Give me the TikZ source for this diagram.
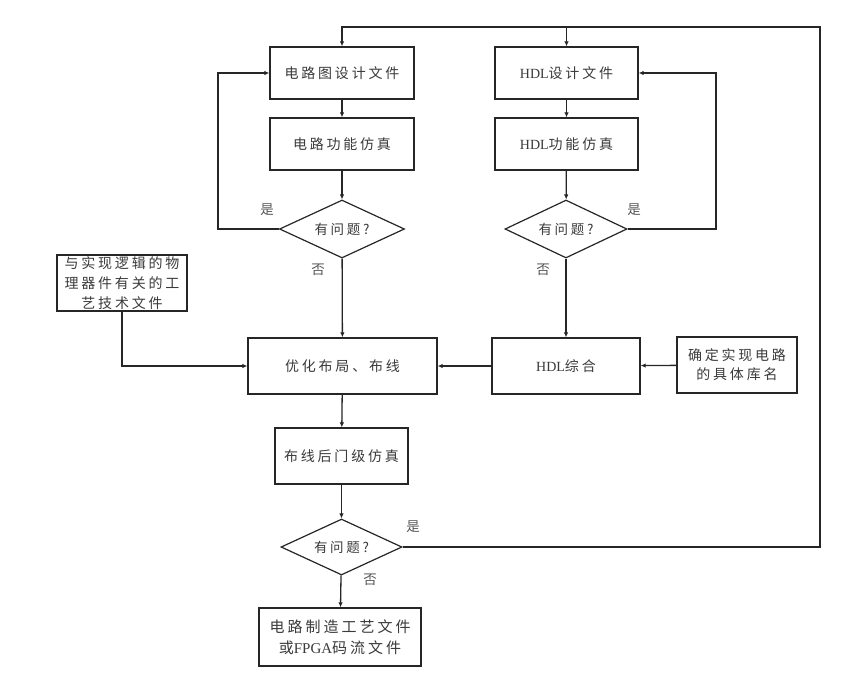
\documentclass[tikz,border=0pt]{standalone}
\usepackage{fontspec}
\newfontfamily\cjk[LetterSpace=20]{Noto Sans CJK SC}
\newfontfamily\lat{Liberation Serif}
\usetikzlibrary{shapes.geometric,arrows.meta}
\definecolor{linec}{HTML}{262626}
\definecolor{txt}{HTML}{3A3A3A}
\definecolor{lbltxt}{HTML}{555555}
\begin{document}
\begin{tikzpicture}[x=1pt,y=-1pt,
  box/.style={draw=linec, line width=1.3pt, fill=white, text=txt, font=\cjk\fontsize{14}{19}\selectfont, align=center, inner sep=0pt},
  dia/.style={draw=linec, line width=1.2pt, fill=white, diamond, aspect=2.1, text=txt, font=\cjk\fontsize{13.5}{16}\selectfont, inner sep=0pt},
  arr/.style={draw=linec, line width=1.3pt, -{Latex[length=5pt,width=4.5pt]}},
  lbl/.style={text=lbltxt, font=\cjk\fontsize{13.5}{16}\selectfont, inner sep=0pt}]
\useasboundingbox (0,0) rectangle (858,681);
\node[box, minimum width=144, minimum height=52] (a) at (342,73) {电路图设计文件};
\node[box, minimum width=144, minimum height=52] (b) at (342,144) {电路功能仿真};
\node[dia, minimum width=125, minimum height=58] (d1) at (342,229) {有问题?};
\node[box, minimum width=143, minimum height=52] (c) at (566.5,73) {{\lat HDL}设计文件};
\node[box, minimum width=143, minimum height=52] (d) at (566.5,144) {{\lat HDL}功能仿真};
\node[dia, minimum width=122, minimum height=58] (d2) at (566,229) {有问题?};
\node[box, minimum width=130, minimum height=56, font=\cjk\fontsize{14}{20}\selectfont] (l) at (122,283) {与实现逻辑的物\\理器件有关的工\\艺技术文件};
\node[box, minimum width=189, minimum height=56] (e) at (342.5,366) {优化布局、布线};
\node[box, minimum width=148, minimum height=56] (f) at (566,366) {{\lat HDL}综合};
\node[box, minimum width=120, minimum height=56] (g) at (737,365) {确定实现电路\\的具体库名};
\node[box, minimum width=133, minimum height=56] (h) at (341.5,456) {布线后门级仿真};
\node[dia, minimum width=121, minimum height=56] (d3) at (341.5,547) {有问题?};
\node[box, minimum width=162, minimum height=58, font=\cjk\fontsize{15}{21}\selectfont] (i) at (340,637) {电路制造工艺文件\\或{\lat FPGA}码流文件};
\coordinate (tr) at (820,27);
\coordinate (tc) at (c.north |- tr);
\coordinate (ll) at (218,229);
\coordinate (rl) at (716,229);
\draw[arr] (a) -- (b);
\draw[arr] (b) -- (d1);
\draw[arr] (d1) -- (e);
\draw[arr] (d1.west) -- (ll) |- (a.west);
\draw[arr] (c) -- (d);
\draw[arr] (d) -- (d2);
\draw[arr] (d2) -- (f);
\draw[arr] (d2.east) -- (rl) |- (c.east);
\draw[arr] (f) -- (e);
\draw[arr] (g) -- (f);
\draw[arr] (l.south) |- (e.west);
\draw[arr] (e) -- (h);
\draw[arr] (h) -- (d3);
\draw[arr] (d3) -- (i);
\draw[arr] (d3.east) -| (tr) -| (a.north);
\draw[arr] (tc) -- (c.north);
\node[lbl] (y1) at (267,210) {是};
\node[lbl] (n1) at (318,270) {否};
\node[lbl] (y2) at (634,210) {是};
\node[lbl] (n2) at (543,270) {否};
\node[lbl] (y3) at (413,527) {是};
\node[lbl] (n3) at (370,580) {否};
\end{tikzpicture}
\end{document}
